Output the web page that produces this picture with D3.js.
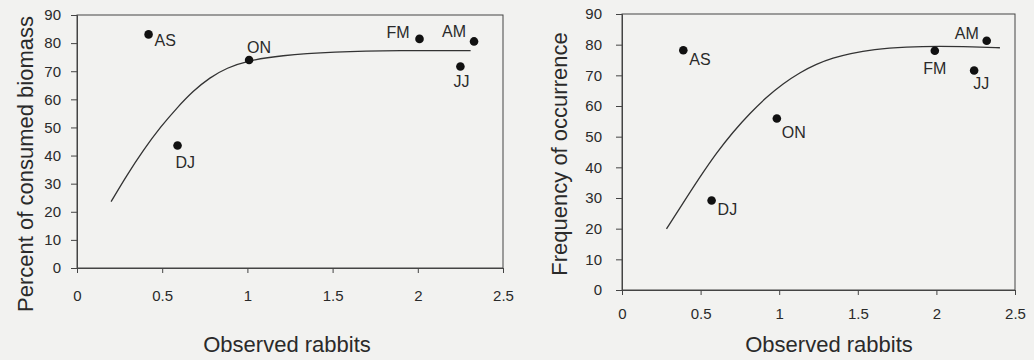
<!DOCTYPE html>
<html>
<head>
<meta charset="utf-8">
<script src="https://cdn.jsdelivr.net/npm/d3@7"></script>
<style>
  html, body { margin: 0; padding: 0; background: #f2f2f0; }
  svg { display: block; }
  text { font-family: "Liberation Sans", Arial, sans-serif; fill: #2a2a2a; }
</style>
</head>
<body>
<svg id="chart" width="1034" height="360"></svg>
<script>
// ---- Data ----
const months = ["AS", "DJ", "ON", "FM", "AM", "JJ"];

// Panel A: percent of consumed biomass vs observed rabbits
const rabbitsA = [0.42, 0.59, 1.01, 2.01, 2.33, 2.25];
const biomass  = [83.1, 43.6, 74.0, 81.5, 80.6, 71.7];
const fitAx = [0.20, 0.29, 0.39, 0.49, 0.59, 0.68, 0.78, 0.88, 1.00, 1.19, 1.50, 1.90, 2.31];
const fitAy = [23.6, 32.8, 42.0, 50.2, 57.2, 62.9, 67.8, 71.2, 73.7, 75.6, 76.9, 77.4, 77.3];

// Panel B: frequency of occurrence vs observed rabbits
const rabbitsB  = [0.39, 0.57, 0.985, 1.99, 2.32, 2.24];
const frequency = [78.2, 29.2, 55.9, 78.0, 81.3, 71.6];
const fitBx = [0.283, 0.388, 0.495, 0.601, 0.707, 0.813, 0.919, 1.025, 1.131, 1.237, 1.343, 1.449, 1.598, 1.81, 2.02, 2.234, 2.404];
const fitBy = [19.9, 28.3, 36.8, 44.7, 51.6, 57.6, 62.9, 67.3, 70.9, 73.7, 75.7, 77.1, 78.5, 79.3, 79.5, 79.3, 79.0];

const xTicks = [0, 0.5, 1, 1.5, 2, 2.5];
const yTicks = [0, 10, 20, 30, 40, 50, 60, 70, 80, 90];
const xTitle = "Observed rabbits";
const yTitleA = "Percent of consumed biomass";
const yTitleB = "Frequency of occurrence";

// ---- Layout (positions / styles) ----
const panels = [
  {
    xs: rabbitsA, ys: biomass, fx: fitAx, fy: fitAy, yTitle: yTitleA,
    left: 77, right: 503, top: 15, bottom: 268,
    yTitleX: 33, yTitleY: 164, xTitleX: 287, xTitleY: 352, yPad: 10, xPad: 17,
    labels: {
      AS: {dx: 6, dy: 12, anchor: "start"},
      DJ: {dx: -2, dy: 23, anchor: "start"},
      ON: {dx: -2, dy: -7, anchor: "start"},
      FM: {dx: -10, dy: -1, anchor: "end"},
      AM: {dx: -8, dy: -4, anchor: "end"},
      JJ: {dx: -7, dy: 21, anchor: "start"}
    }
  },
  {
    xs: rabbitsB, ys: frequency, fx: fitBx, fy: fitBy, yTitle: yTitleB,
    left: 622, right: 1015, top: 14, bottom: 290,
    yTitleX: 567, yTitleY: 154, xTitleX: 829, xTitleY: 352, yPad: 14, xPad: 13,
    labels: {
      AS: {dx: 6, dy: 15, anchor: "start"},
      DJ: {dx: 6, dy: 15, anchor: "start"},
      ON: {dx: 5, dy: 19, anchor: "start"},
      FM: {dx: 0, dy: 23, anchor: "middle"},
      AM: {dx: -8, dy: -2, anchor: "end"},
      JJ: {dx: -1, dy: 19, anchor: "start"}
    }
  }
];

const svg = d3.select("#chart");
const axisColor = "#444";

panels.forEach(p => {
  const x = d3.scaleLinear().domain([0, 2.5]).range([p.left, p.right]);
  const y = d3.scaleLinear().domain([0, 90]).range([p.bottom, p.top]);
  const g = svg.append("g");

  // frame
  g.append("rect")
    .attr("x", p.left).attr("y", p.top)
    .attr("width", p.right - p.left).attr("height", p.bottom - p.top)
    .attr("fill", "none").attr("stroke", axisColor).attr("stroke-width", 1);

  // x axis
  const xa = g.append("g")
    .attr("transform", `translate(0,${p.bottom})`)
    .call(d3.axisBottom(x).tickValues(xTicks).tickFormat(d => String(d)).tickSizeOuter(0).tickSize(5).tickPadding(p.xPad));
  // y axis
  const ya = g.append("g")
    .attr("transform", `translate(${p.left},0)`)
    .call(d3.axisLeft(y).tickValues(yTicks).tickFormat(d => String(d)).tickSizeOuter(0).tickSize(6).tickPadding(p.yPad));

  [xa, ya].forEach(a => {
    a.select(".domain").attr("stroke", axisColor);
    a.selectAll(".tick line").attr("stroke", axisColor);
    a.selectAll(".tick text")
      .style("font-family", '"Liberation Sans", Arial, sans-serif')
      .style("font-size", "15px").attr("fill", "#333");
  });

  // fitted curve
  const pts = p.fx.map((v, i) => [v, p.fy[i]]);
  g.append("path")
    .datum(pts)
    .attr("fill", "none").attr("stroke", "#333").attr("stroke-width", 1.3)
    .attr("d", d3.line().x(d => x(d[0])).y(d => y(d[1])).curve(d3.curveBasis));

  // points
  const data = months.map((m, i) => ({m, xv: p.xs[i], yv: p.ys[i]}));
  g.selectAll("circle.pt").data(data).enter().append("circle")
    .attr("class", "pt")
    .attr("cx", d => x(d.xv)).attr("cy", d => y(d.yv))
    .attr("r", 4.3).attr("fill", "#111");

  g.selectAll("text.lbl").data(data).enter().append("text")
    .attr("class", "lbl")
    .attr("x", d => x(d.xv) + p.labels[d.m].dx)
    .attr("y", d => y(d.yv) + p.labels[d.m].dy)
    .attr("text-anchor", d => p.labels[d.m].anchor)
    .style("font-size", "16px")
    .text(d => d.m);

  // axis titles
  g.append("text")
    .attr("x", p.xTitleX).attr("y", p.xTitleY)
    .attr("text-anchor", "middle").style("font-size", "22px")
    .text(xTitle);
  g.append("text")
    .attr("transform", `translate(${p.yTitleX},${p.yTitleY}) rotate(-90)`)
    .attr("text-anchor", "middle").style("font-size", "22px")
    .text(p.yTitle);
});
</script>
</body>
</html>
